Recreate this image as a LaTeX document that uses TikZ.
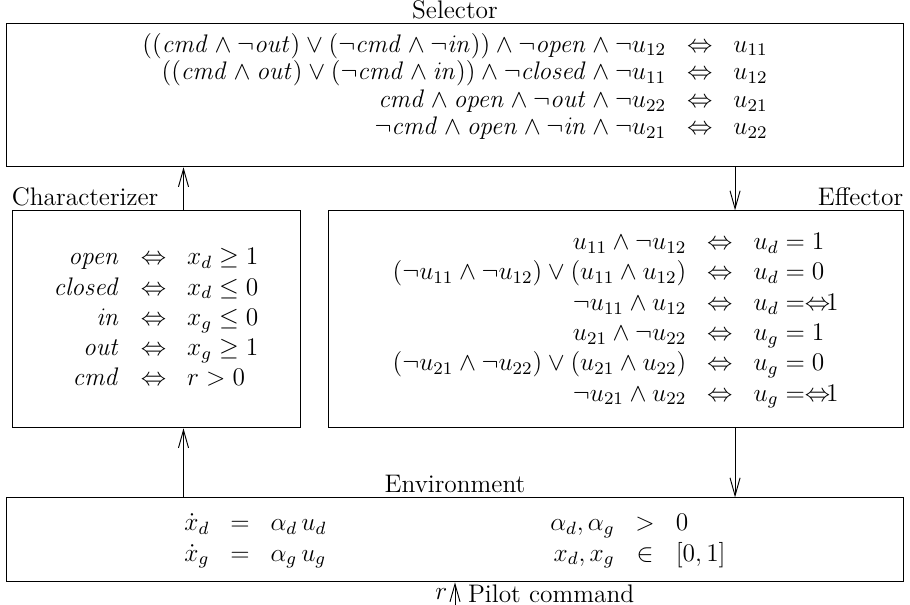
\RequirePackage{fix-cm}
\documentclass[tikz,border=0pt]{standalone}
\usepackage{amsmath, amssymb}
\usepackage{tikz}
\usetikzlibrary{arrows.meta, positioning}
\newcommand{\pcmd}{\mathit{cmd}}
\newcommand{\popen}{\mathit{open}}
\newcommand{\pclosed}{\mathit{closed}}
\newcommand{\pin}{\mathit{in}}
\newcommand{\pout}{\mathit{out}}
\newcommand{\negone}{\Leftrightarrow\mkern-8mu1}
\renewcommand{\arraystretch}{1.03}

\begin{document}
\begin{tikzpicture}[font=\fontsize{12.1}{14}\selectfont,
  blk/.style={draw, line width=0.45pt, inner sep=0pt},
  arr/.style={-{Straight Barb[length=8.5pt, width=4.8pt]}, line width=0.45pt},
  lbl/.style={inner sep=2pt}]
  \useasboundingbox (0,0) rectangle (15.24,10.13);

  % selector
  \node[blk, minimum width=15.01cm, minimum height=2.395cm] (sel) at (7.62,8.534) {\def\arraystretch{0.94}$\begin{array}{rcl}
    ((\pcmd \wedge \neg\pout) \vee (\neg\pcmd \wedge \neg\pin)) \wedge \neg\popen \wedge \neg u_{12} & \Leftrightarrow & u_{11}\\
    ((\pcmd \wedge \pout) \vee (\neg\pcmd \wedge \pin)) \wedge \neg\pclosed \wedge \neg u_{11} & \Leftrightarrow & u_{12}\\
    \pcmd \wedge \popen \wedge \neg\pout \wedge \neg u_{22} & \Leftrightarrow & u_{21}\\
    \neg\pcmd \wedge \popen \wedge \neg\pin \wedge \neg u_{21} & \Leftrightarrow & u_{22}\\[7pt]
  \end{array}$};
  \node[lbl, above] at (sel.north) {Selector};

  % characterizer
  \node[blk, minimum width=4.824cm, minimum height=3.635cm] (char) at (2.613,4.782) {$\begin{array}{rcl}
    \popen & \Leftrightarrow & x_d \geq 1\\
    \pclosed & \Leftrightarrow & x_d \leq 0\\
    \pin & \Leftrightarrow & x_g \leq 0\\
    \pout & \Leftrightarrow & x_g \geq 1\\
    \pcmd & \Leftrightarrow & r > 0
  \end{array}$};
  \node[lbl, above right, inner xsep=0pt] at (char.north west) {Characterizer};

  % effector
  \node[blk, minimum width=9.63cm, minimum height=3.635cm] (eff) at (10.31,4.782) {$\begin{array}{rcl}
    u_{11} \wedge \neg u_{12} & \Leftrightarrow & u_d = 1\\
    (\neg u_{11} \wedge \neg u_{12}) \vee (u_{11} \wedge u_{12}) & \Leftrightarrow & u_d = 0\\
    \neg u_{11} \wedge u_{12} & \Leftrightarrow & u_d = \negone\\
    u_{21} \wedge \neg u_{22} & \Leftrightarrow & u_g = 1\\
    (\neg u_{21} \wedge \neg u_{22}) \vee (u_{21} \wedge u_{22}) & \Leftrightarrow & u_g = 0\\
    \neg u_{21} \wedge u_{22} & \Leftrightarrow & u_g = \negone
  \end{array}$};
  \node[lbl, above left, inner xsep=0pt] at (eff.north east) {Effector};

  % environment
  \node[blk, minimum width=15.01cm, minimum height=1.407cm] (env) at (7.62,1.089) {$\begin{array}{rcl@{\hspace{3.75cm}}rcl}
    \dot{x}_d & = & \alpha_d\,u_d & \alpha_d,\alpha_g & > & 0\\
    \dot{x}_g & = & \alpha_g\,u_g & x_d,x_g & \in & [0,1]
  \end{array}$};
  \node[lbl, above] at (env.north) {Environment};
  \coordinate (pilot) at (7.62,0);

  % connectors
  \draw[arr] ([xshift=0.46cm]char.north) -- ([xshift=0.46cm]char.north |- sel.south);
  \draw[arr] ([xshift=2cm]eff.north |- sel.south) -- ([xshift=2cm]eff.north);
  \draw[arr] ([xshift=0.46cm]char.south |- env.north) -- ([xshift=0.46cm]char.south);
  \draw[arr] ([xshift=2cm]eff.south) -- ([xshift=2cm]eff.south |- env.north);
  \draw[arr] (pilot) -- (env.south)
    node[midway, left, inner xsep=3.5pt] {$r$}
    node[midway, right, inner xsep=6pt] {Pilot command};
\end{tikzpicture}
\end{document}
